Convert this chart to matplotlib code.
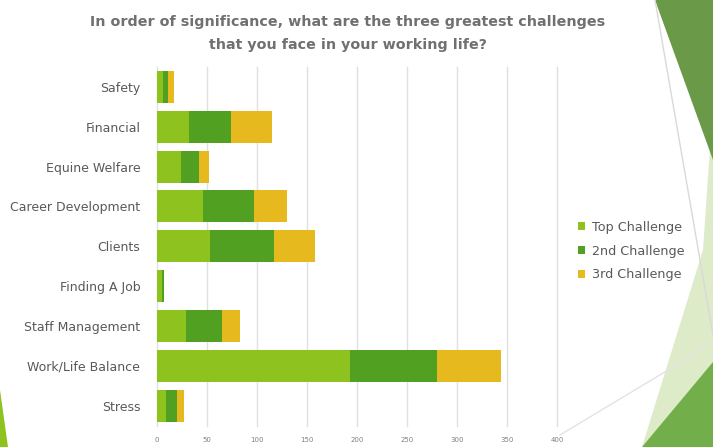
"""Stacked bar chart: three greatest challenges in working life."""
import matplotlib
matplotlib.use("Agg")
import matplotlib.pyplot as plt
from matplotlib.patches import Polygon
import numpy as np

categories = [
    "Safety", "Financial", "Equine Welfare", "Career Development", "Clients",
    "Finding A Job", "Staff Management", "Work/Life Balance", "Stress",
]
top_challenge = [6, 32, 24, 46, 53, 5, 29, 193, 9]
second_challenge = [5, 42, 18, 51, 64, 2, 36, 87, 11]
third_challenge = [6, 41, 10, 33, 41, 0, 18, 64, 7]

series_names = ["Top Challenge", "2nd Challenge", "3rd Challenge"]
colors = ["#8DC21F", "#52A022", "#E6B91E"]
xticks = np.arange(0, 401, 50)

fig = plt.figure(figsize=(7.13, 4.47), dpi=100)
fig.patch.set_facecolor("white")

# slide decoration (figure pixel coords, y from top)
W, H = 713, 447


def deco(points, color, z=0):
    pts = [(x / W, 1 - y / H) for x, y in points]
    fig.patches.append(Polygon(pts, closed=True, transform=fig.transFigure,
                               facecolor=color, edgecolor="none", zorder=z))


deco([(703, 250), (713, 105), (713, 447), (642, 447)], "#DDEBC9")
deco([(655, 0), (713, 0), (713, 160)], "#6A9A47")
deco([(642, 447), (713, 362), (713, 447)], "#72AF4A")
deco([(0, 390), (0, 447), (8, 447)], "#8DC21F")
fig.lines.append(plt.Line2D([655 / W, 1], [1, 1 - 335 / H], transform=fig.transFigure,
                            color="#d9d9d9", lw=1))
fig.lines.append(plt.Line2D([560 / W, 1], [1 - 435 / H, 1 - 343 / H],
                            transform=fig.transFigure, color="#e3e3e3", lw=1))

ax = fig.add_axes([157 / W, 1 - 425.5 / H, 400 / W, 358.5 / H])
ax.set_facecolor("none")

y = np.arange(len(categories))
left = np.zeros(len(categories))
for vals, name, col in zip([top_challenge, second_challenge, third_challenge],
                           series_names, colors):
    ax.barh(y, vals, left=left, height=0.8, color=col, label=name, zorder=3)
    left += np.array(vals)

ax.set_xlim(0, 400)
ax.set_ylim(len(categories) - 0.5, -0.5)
ax.set_xticks(xticks)
ax.set_xticklabels([str(t) for t in xticks], fontsize=5, color="#808080")
ax.set_yticks(y)
ax.set_yticklabels(categories, fontsize=9, color="#595959")
ax.tick_params(length=0, pad=12)
ax.tick_params(axis="x", pad=8)
ax.grid(axis="x", color="#e0e0e0", lw=1, zorder=0)
for gl in ax.get_xgridlines():
    gl.set_clip_on(False)
for s in ax.spines.values():
    s.set_visible(False)

fig.text(348 / W, 1 - 22 / H, "In order of significance, what are the three greatest challenges",
         ha="center", va="center", fontsize=10.3, fontweight="bold", color="#707070")
fig.text(348 / W, 1 - 45 / H, "that you face in your working life?",
         ha="center", va="center", fontsize=10.3, fontweight="bold", color="#707070")

leg = ax.legend(loc="center left", bbox_to_anchor=(566 / W, 1 - 251 / H),
                bbox_transform=fig.transFigure, frameon=False, fontsize=9.2,
                handlelength=0.6, handleheight=0.6, handletextpad=0.5,
                labelspacing=0.85)
for t in leg.get_texts():
    t.set_color("#595959")

fig.savefig("out.png", dpi=100)
